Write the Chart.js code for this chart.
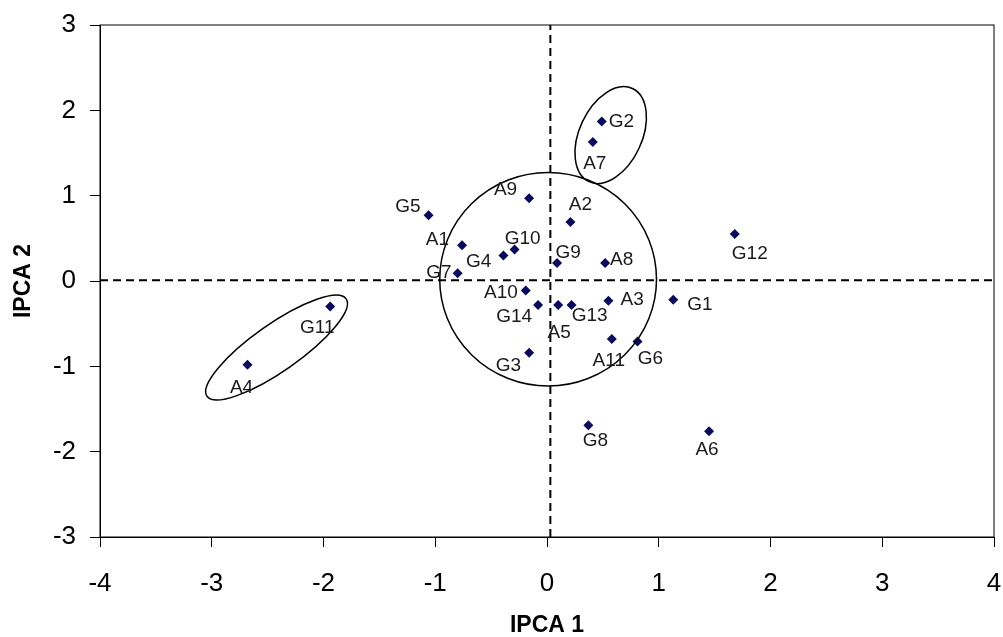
<!DOCTYPE html>
<html>
<head>
<meta charset="utf-8">
<script src="https://cdn.jsdelivr.net/npm/chart.js@4.4.1/dist/chart.umd.min.js"></script>
<style>
  body { margin: 0; background: #fff; }
  #wrap { width: 1003px; height: 637px; }
</style>
</head>
<body>
<div id="wrap"><canvas id="chart" width="1003" height="637"></canvas></div>
<script>
// genotype / environment codes and their IPCA scores
const names = ['G2', 'A7', 'A9', 'G5', 'A2', 'A1', 'G10', 'G4', 'G9', 'A8', 'G7', 'A10', 'G14',
  'A5', 'G13', 'A3', 'G1', 'A11', 'G6', 'G3', 'G11', 'A4', 'G8', 'A6', 'G12']
const ipca1 = [0.49, 0.41, -0.16, -1.06, 0.21, -0.76, -0.29, -0.39, 0.09, 0.52, -0.80, -0.19, -0.08,
  0.10, 0.22, 0.55, 1.13, 0.58, 0.81, -0.16, -1.94, -2.68, 0.37, 1.45, 1.68]
const ipca2 = [1.87, 1.63, 0.97, 0.77, 0.69, 0.42, 0.37, 0.30, 0.21, 0.21, 0.09, -0.11, -0.28,
  -0.28, -0.28, -0.23, -0.22, -0.68, -0.71, -0.84, -0.30, -0.98, -1.69, -1.76, 0.55]

// dashed reference lines
const meanX = 0.03
const meanY = 0.01

const xTicks = [-4, -3, -2, -1, 0, 1, 2, 3, 4]
const yTicks = [-3, -2, -1, 0, 1, 2, 3]

// label placement: [align, dx, dy] in px, same order as names
const labelPos = [
  ['left', 7, 0], ['center', 2, 22], ['right', -12, -8], ['right', -8, -9], ['center', 10, -17],
  ['right', -13, -5], ['center', 8, -11], ['right', -12, 6], ['center', 11, -10], ['left', 5, -3],
  ['right', -6, -1], ['right', -8, 2], ['right', -6, 12], ['center', 1, 28], ['center', 18, 11],
  ['left', 12, -1], ['left', 14, 5], ['center', -3, 22], ['center', 13, 17], ['right', -8, 13],
  ['center', -13, 21], ['center', -6, 23], ['center', 7, 16], ['center', -2, 19], ['center', 15, 20]
]

// group outlines: centre in data units, radii in x-axis units, rotation in degrees
const groups = [
  { cx: 0.01, cy: 0.02, rx: 0.97, ry: 0.955, rot: 0 },
  { cx: 0.57, cy: 1.71, rx: 0.28, ry: 0.46, rot: 25 },
  { cx: -2.42, cy: -0.78, rx: 0.76, ry: 0.21, rot: -35 }
]

const font = "'Liberation Sans', Arial, sans-serif"

const extras = {
  id: 'extras',
  afterDatasetsDraw(chart) {
    const { ctx, chartArea: a, scales: { x, y } } = chart
    ctx.save()
    // frame top/right
    ctx.strokeStyle = '#000'
    ctx.lineWidth = 1
    ctx.strokeRect(a.left, a.top, a.right - a.left, a.bottom - a.top)

    // ellipses
    const ppu = x.getPixelForValue(1) - x.getPixelForValue(0)
    ctx.lineWidth = 1.5
    groups.forEach(g => {
      ctx.beginPath()
      ctx.ellipse(x.getPixelForValue(g.cx), y.getPixelForValue(g.cy),
        g.rx * ppu, g.ry * ppu, g.rot * Math.PI / 180, 0, Math.PI * 2)
      ctx.stroke()
    })

    // point labels
    ctx.fillStyle = '#1a1a1a'
    ctx.font = '19px ' + font
    ctx.textBaseline = 'middle'
    names.forEach((n, i) => {
      const [al, dx, dy] = labelPos[i]
      ctx.textAlign = al
      ctx.fillText(n, x.getPixelForValue(ipca1[i]) + dx, y.getPixelForValue(ipca2[i]) + dy)
    })
    ctx.restore()
  }
}

const ctx = document.getElementById('chart').getContext('2d')
new Chart(ctx, {
  type: 'scatter',
  data: {
    datasets: [
      {
        label: 'IPCA',
        data: names.map((n, i) => ({ x: ipca1[i], y: ipca2[i] })),
        pointStyle: 'rectRot',
        pointRadius: 5,
        backgroundColor: '#0a0a5c',
        borderColor: '#0a0a5c',
        borderWidth: 0
      },
      {
        label: 'v',
        data: [{ x: meanX, y: -3 }, { x: meanX, y: 3 }],
        showLine: true,
        pointRadius: 0,
        borderColor: '#000',
        borderWidth: 2,
        borderDash: [8, 5]
      },
      {
        label: 'h',
        data: [{ x: -4, y: meanY }, { x: 4, y: meanY }],
        showLine: true,
        pointRadius: 0,
        borderColor: '#000',
        borderWidth: 2,
        borderDash: [8, 5]
      }
    ]
  },
  options: {
    responsive: false,
    animation: false,
    layout: { padding: { top: 25, right: 9, left: 0, bottom: 0 } },
    plugins: { legend: { display: false }, tooltip: { enabled: false } },
    scales: {
      x: {
        type: 'linear',
        min: -4,
        max: 4,
        afterBuildTicks: (s) => { s.ticks = xTicks.map(v => ({ value: v })) },
        afterFit: (s) => { s.height = 100; s.paddingLeft = 0; s.paddingRight = 0 },
        grid: { drawOnChartArea: false, drawTicks: true, tickLength: 10, color: '#000' },
        border: { color: '#000' },
        ticks: { color: '#000', padding: 21, font: { family: font, size: 26 } },
        title: {
          display: true, text: 'IPCA 1', color: '#000',
          font: { family: font, size: 23, weight: 'bold', lineHeight: 1 },
          padding: { top: 0, bottom: 0 }
        }
      },
      y: {
        type: 'linear',
        min: -3,
        max: 3,
        afterBuildTicks: (s) => { s.ticks = yTicks.map(v => ({ value: v })) },
        afterFit: (s) => { s.width = 100; s.paddingTop = 0; s.paddingBottom = 0 },
        grid: { drawOnChartArea: false, drawTicks: true, tickLength: 10, color: '#000' },
        border: { color: '#000' },
        ticks: { color: '#000', padding: 14, font: { family: font, size: 26 } },
        title: {
          display: true, text: 'IPCA 2', color: '#000',
          font: { family: font, size: 23, weight: 'bold', lineHeight: 1 },
          padding: { top: 12, bottom: 0 }
        }
      }
    }
  },
  plugins: [extras]
})
</script>
</body>
</html>
